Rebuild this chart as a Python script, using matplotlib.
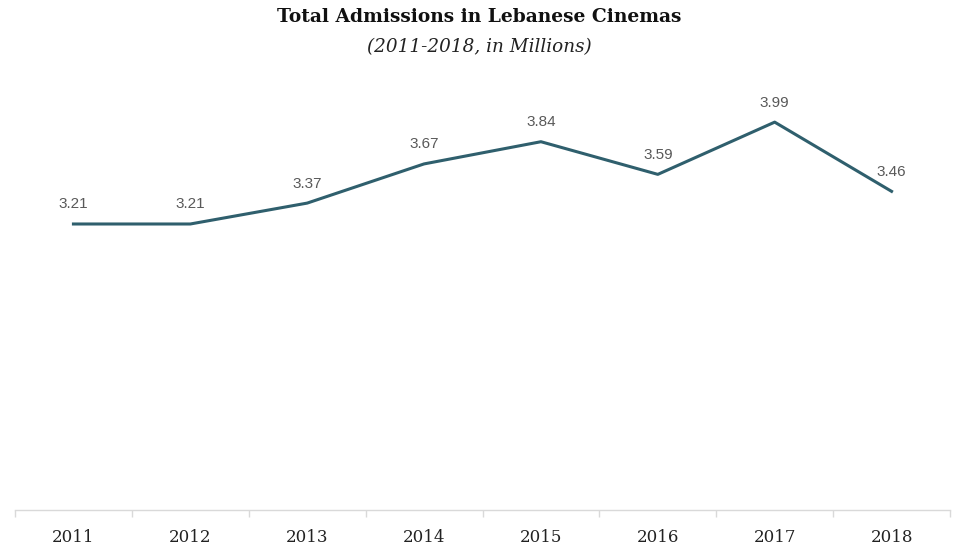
import matplotlib
matplotlib.use("Agg")
import matplotlib.pyplot as plt
import numpy as np

years = ["2011", "2012", "2013", "2014", "2015", "2016", "2017", "2018"]
admissions = [3.21, 3.21, 3.37, 3.67, 3.84, 3.59, 3.99, 3.46]

fig = plt.figure(figsize=(9.59, 5.5), dpi=100)
ax = fig.add_axes([15/959, 40/550, 935/959, 420/550])

x = np.arange(len(years))
ax.plot(x, admissions, color="#2F5F6D", lw=2.2, solid_joinstyle="round")
for xi, v in zip(x, admissions):
    ax.annotate(f"{v:.2f}", (xi, v), xytext=(0, 9), textcoords="offset points",
                ha="center", va="bottom", fontsize=11, color="#595959",
                family="Liberation Sans")

ax.set_xlim(-0.5, len(years) - 0.5)
ax.set_ylim(1.02, 4.236)
for s in ["top", "right", "left"]:
    ax.spines[s].set_visible(False)
ax.spines["bottom"].set_color("#d9d9d9")
ax.spines["bottom"].set_linewidth(1.0)
ax.set_yticks([])
ax.set_xticks(x)
ax.set_xticklabels(years, family="DejaVu Serif", fontsize=12, color="#222222")
ax.tick_params(axis="x", which="major", length=0, pad=13.5)
ax.set_xticks(np.arange(-0.5, len(years)), minor=True)
ax.tick_params(axis="x", which="minor", length=5, color="#d9d9d9", width=1)

fig.text(0.5, 1 - 17/550, "Total Admissions in Lebanese Cinemas", ha="center", va="center",
         family="DejaVu Serif", fontweight="bold", fontsize=13.4, color="#111111")
fig.text(0.5, 1 - 47/550, "(2011-2018, in Millions)", ha="center", va="center",
         family="DejaVu Serif", style="italic", fontsize=13.2, color="#222222")

fig.savefig("out.png", dpi=100)
